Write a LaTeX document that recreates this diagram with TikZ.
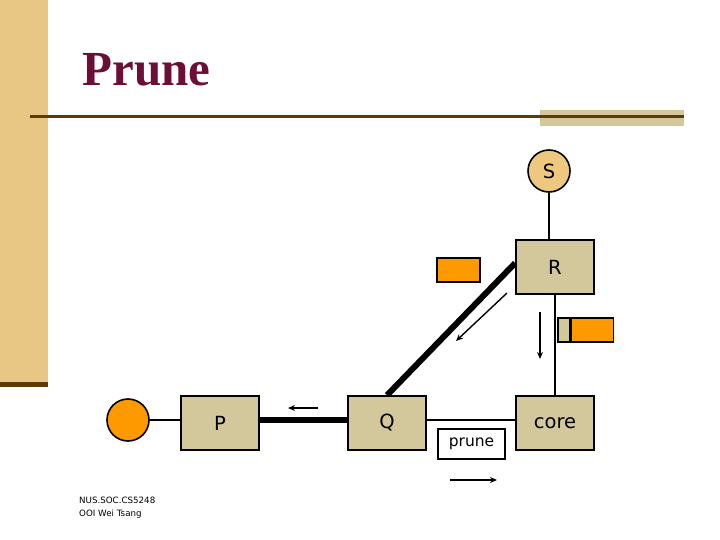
\documentclass[tikz,border=0pt]{standalone}
\usepackage{fontspec}
\setmainfont{Liberation Serif}
\setsansfont{DejaVu Sans}
\usepackage{xcolor}
\usepackage{tikz}
\usetikzlibrary{positioning}
\usetikzlibrary{arrows.meta}

\definecolor{bartan}{HTML}{E8C684}
\definecolor{boxtan}{HTML}{D3C89C}
\definecolor{srcfill}{HTML}{EDC87E}
\definecolor{tokorange}{HTML}{FF9900}
\definecolor{titlered}{HTML}{6B0F36}
\definecolor{rulebrown}{HTML}{5E3A06}

\tikzset{
  router/.style={draw, line width=1.6pt, fill=boxtan, minimum width=78pt,
    minimum height=54pt, inner sep=0pt, font=\sffamily\fontsize{19.5}{19.5}\selectfont},
  source/.style={draw, line width=1.6pt, circle, minimum size=42pt, inner sep=0pt,
    font=\sffamily\fontsize{19.5}{19.5}\selectfont},
  token/.style={draw, line width=1.4pt, minimum height=24pt, inner sep=0pt},
  flow/.style={line width=1.4pt, -{Stealth[length=7pt,width=6pt]}},
  link/.style={line width=1.6pt},
  thicklink/.style={line width=6pt}
}

\begin{document}
\begin{tikzpicture}[x=1pt,y=-1pt]
\useasboundingbox (0,0) rectangle (720,540);

% side bar
\fill[bartan] (0,0) rectangle (48,382);
\fill[rulebrown] (0,382) rectangle (48,387);

% title and rule
\node[anchor=base west, text=titlered, font=\bfseries\fontsize{49}{49}\selectfont]
  (title) at (79,86) {Prune};
\fill[boxtan] (540,110) rectangle (684,126);
\draw[rulebrown, line width=3pt] (30,117) -- (684,117);

% routers
\node[router] (R) at (555,267) {R};
\node[router] (P) at (220,423) {P};
\node[router] (Q) at (387,423) {Q};
\node[router] (core) at (555,423) {core};

% sources
\node[source, fill=srcfill] (S) at (549,171) {S};
\node[source, fill=tokorange] (recv) at (128,420) {};

% tokens
\node[token, fill=tokorange, minimum width=43pt] (tokA) at (458.5,270) {};
\node[token, fill=boxtan, minimum width=12pt] (tokB) at (564,330) {};
\node[token, fill=tokorange, minimum width=42pt, right=0pt of tokB] (tokC) {};

% links
\draw[link] (S) -- (S |- R.north);
\draw[link] (R) -- (core);
\draw[link] (recv) -- (recv -| P.west);
\draw[link] (Q.east |- 0,420) -- (core.west |- 0,420);
\draw[thicklink] (P.east |- 0,420) -- (Q.west |- 0,420);
\draw[thicklink] ([yshift=4pt]R.west) -- (Q.north);

% prune label
\node[draw, line width=1.4pt, fill=white, minimum width=67pt, minimum height=30pt,
  inner sep=0pt, font=\sffamily\fontsize{15.5}{15.5}\selectfont] (prunelbl) at (471.5,444) {prune};

% prune messages
\coordinate (a1) at (318,408);
\coordinate (a2) at (288,408);
\coordinate (b1) at (507,293);
\coordinate (b2) at (456,341);
\coordinate (c1) at (540,312);
\coordinate (c2) at (540,359);
\coordinate (d1) at (450,480);
\coordinate (d2) at (497,480);
\draw[flow] (a1) -- (a2);
\draw[flow] (b1) -- (b2);
\draw[flow] (c1) -- (c2);
\draw[flow] (d1) -- (d2);

% footer
\node[anchor=north west, align=left, inner sep=0pt,
  font=\sffamily\fontsize{8.7}{12.5}\selectfont] (footer) at (79,497)
  {NUS.SOC.CS5248\\OOI Wei Tsang};

\end{tikzpicture}
\end{document}
